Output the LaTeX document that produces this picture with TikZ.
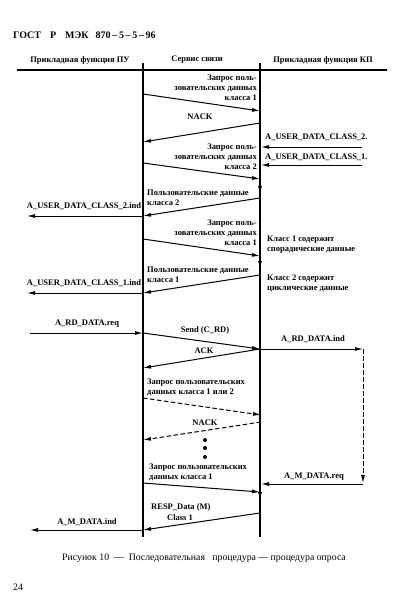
\documentclass[tikz,border=0pt]{standalone}
\usepackage{fontspec}
\setmainfont{Liberation Serif}
\usetikzlibrary{arrows.meta}
\begin{document}
\begin{tikzpicture}[x=1pt,y=-1pt,
  lbl/.style={font=\bfseries\fontsize{8.5}{10}\selectfont, inner sep=0pt},
  reg/.style={font=\fontsize{9.8}{11}\selectfont, inner sep=0pt},
  msg/.style={line width=1pt,-{Latex[length=8pt,width=4pt]}},
  dmsg/.style={msg,dash pattern=on 4.5pt off 2.5pt},
  life/.style={line width=1.4pt},
  dotn/.style={circle,fill=black,inner sep=0pt,minimum size=4pt}]
\useasboundingbox (0,0) rectangle (419,610);
% header
\node[lbl,anchor=west,font=\bfseries\fontsize{10}{11}\selectfont] (hdr) at (13,35) {ГОСТ\hspace{9pt}Р\hspace{9pt}МЭК\hspace{7pt}870\,–\,5\,–\,5\,–\,96};
\node[lbl] (h1) at (80,60) {Прикладная функция ПУ};
\node[lbl] (h2) at (197,60) {Сервис связи};
\node[lbl] (h3) at (323,60) {Прикладная функция КП};
\coordinate (hl) at (17,70);
\coordinate (hr) at (387,70);
\draw[line width=1.1pt] (hl) -- (hr);
% lifelines
\coordinate (Lt) at (143,63); \coordinate (Lb) at (143,537);
\coordinate (Rt) at (260,63); \coordinate (Rb) at (260,537);
\draw[life] (Lt) -- (Lb);
\draw[life] (Rt) -- (Rb);
% 1
\coordinate (a1) at (143,94); \coordinate (b1) at (260,111);
\draw[msg] (a1) -- (b1);
\node[lbl,anchor=east,align=right] (t1) at (257,88) {Запрос поль-\\зовательских данных\\класса 1};
% 2 NACK
\coordinate (a2) at (260,123); \coordinate (b2) at (143,142);
\draw[msg] (a2) -- (b2);
\node[lbl] (t2) at (200,117) {NACK};
% ext class 2
\node[lbl,anchor=west] (e1) at (265,137) {A\_USER\_DATA\_CLASS\_2.};
\coordinate (e1a) at (362,147); \coordinate (e1b) at (261,147);
\draw[msg] (e1a) -- (e1b);
\node[lbl,anchor=west] (e2) at (265,157) {A\_USER\_DATA\_CLASS\_1.};
\coordinate (e2a) at (362,165); \coordinate (e2b) at (261,165);
\draw[msg] (e2a) -- (e2b);
% 3
\coordinate (a3) at (143,163); \coordinate (b3) at (260,179);
\draw[msg] (a3) -- (b3);
\node[lbl,anchor=east,align=right] (t3) at (257,157) {Запрос поль-\\зовательских данных\\класса 2};
\coordinate (v1a) at (260,184); \coordinate (v1b) at (260,194);
\draw[msg] (v1a) -- (v1b);
% 4
\coordinate (a4) at (260,198); \coordinate (b4) at (143,216);
\draw[msg] (a4) -- (b4);
\node[lbl,anchor=west,align=left] (t4) at (147,198) {Пользовательские данные\\класса 2};
\coordinate (x4) at (27,216);
\draw[msg] (b4) -- (x4);
\node[lbl] (u4) at (84,206) {A\_USER\_DATA\_CLASS\_2.ind};
% 5
\coordinate (a5) at (143,239); \coordinate (b5) at (260,256);
\draw[msg] (a5) -- (b5);
\node[lbl,anchor=east,align=right] (t5) at (257,233) {Запрос поль-\\зовательских данных\\класса 1};
\node[lbl,anchor=west,align=left] (k1) at (267,245) {Класс 1 содержит\\спорадические данные};
\coordinate (v2a) at (260,259); \coordinate (v2b) at (260,269);
\draw[msg] (v2a) -- (v2b);
% 6
\coordinate (a6) at (260,275); \coordinate (b6) at (143,293);
\draw[msg] (a6) -- (b6);
\node[lbl,anchor=west,align=left] (t6) at (147,275) {Пользовательские данные\\класса 1};
\coordinate (x6) at (27,293);
\draw[msg] (b6) -- (x6);
\node[lbl] (u6) at (84,283) {A\_USER\_DATA\_CLASS\_1.ind};
\node[lbl,anchor=west,align=left] (k2) at (267,283) {Класс 2 содержит\\циклические данные};
% RD DATA
\coordinate (x7) at (30,333); \coordinate (a7) at (143,333);
\draw[msg] (x7) -- (a7);
\node[lbl] (u7) at (87,324) {A\_RD\_DATA.req};
\coordinate (b7) at (260,349);
\draw[msg] (a7) -- (b7);
\node[lbl] (t7) at (205,330) {Send (C\_RD)};
\coordinate (y7) at (363,349);
\draw[msg] (b7) -- (y7);
\node[lbl] (u8) at (313,339) {A\_RD\_DATA.ind};
\coordinate (y8) at (363,483);
\draw[dmsg] (y7) -- (y8);
% ACK
\coordinate (b8) at (143,368);
\draw[msg] (b7) -- (b8);
\node[lbl] (t8) at (204,351) {ACK};
% dashed
\coordinate (a9) at (143,398); \coordinate (b9) at (261,415);
\draw[dmsg] (a9) -- (b9);
\node[lbl,anchor=west,align=left] (t9) at (147,387) {Запрос пользовательских\\данных класса 1 или 2};
\coordinate (a10) at (261,422); \coordinate (b10) at (143,440);
\draw[dmsg] (a10) -- (b10);
\node[lbl] (t10) at (205,423) {NACK};
\node[dotn] (d1) at (205,440) {};
\node[dotn] (d2) at (205,448) {};
\node[dotn] (d3) at (205,457) {};
% last request
\node[lbl,anchor=west,align=left] (t11) at (149,472) {Запрос пользовательских\\данных класса 1};
\coordinate (a11) at (143,483); \coordinate (b11) at (260,492);
\draw[msg] (a11) -- (b11);
\coordinate (y9) at (363,484); \coordinate (r9) at (261,484);
\draw[msg] (y9) -- (r9);
\node[lbl] (u9) at (314,477) {A\_M\_DATA.req};
\coordinate (v3a) at (260,490); \coordinate (v3b) at (260,500);
\draw[msg] (v3a) -- (v3b);
% response
\coordinate (a12) at (260,513); \coordinate (b12) at (143,530);
\draw[msg] (a12) -- (b12);
\node[lbl,anchor=west] (t12) at (151,507) {RESP\_Data (M)};
\node[lbl] (t12b) at (180,518) {Class 1};
\coordinate (x12) at (30,530);
\draw[msg] (b12) -- (x12);
\node[lbl] (u12) at (87,522) {A\_M\_DATA.ind};
% caption
\node[reg] (cap) at (204,558) {Рисунок 10\ \ —\ \ Последовательная\ \ \ процедура — процедура опроса};
\node[reg,anchor=west] (pg) at (13,587) {24};
\end{tikzpicture}
\end{document}
